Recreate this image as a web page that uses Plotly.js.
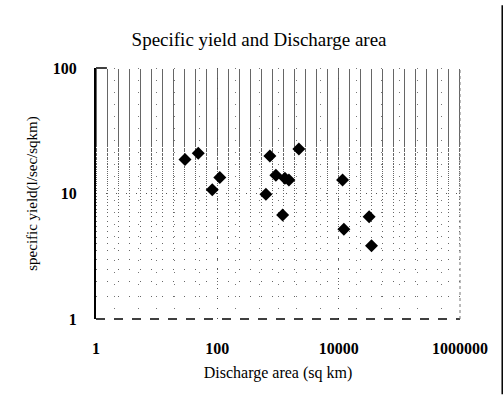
<!DOCTYPE html>
<html>
<head>
<meta charset="utf-8">
<script src="https://cdn.plot.ly/plotly-3.0.1.min.js"></script>
<style>html,body{margin:0;padding:0;background:#fff;}#chart{width:504px;height:409px;}</style>
</head>
<body>
<div id="chart"></div>
<script>
// Discharge area (sq km) and specific yield (l/sec/sqkm)
const dischargeArea = [29.3, 48.5, 110, 82.4, 735, 2210, 923, 1300, 1513, 632, 1191, 11590, 12190, 31800, 34800];
const specificYield = [18.7, 20.9, 13.4, 10.7, 19.9, 22.6, 14.0, 13.2, 12.8, 9.86, 6.74, 12.8, 5.19, 6.53, 3.84];
const xTickVals = [1, 100, 10000, 1000000];
const xTickText = ['1', '100', '10000', '1000000'];
const yTickVals = [1, 10, 100];
const yTickText = ['1', '10', '100'];

const serif = 'Liberation Serif, Times New Roman, serif';

const trace = {
  x: dischargeArea,
  y: specificYield,
  type: 'scatter',
  mode: 'markers',
  marker: {symbol: 'diamond', size: 10, color: '#000'},
  hoverinfo: 'x+y'
};

const layout = {
  width: 504, height: 409,
  margin: {l: 96, r: 44, t: 68, b: 90},
  paper_bgcolor: '#fff', plot_bgcolor: '#fff',
  showlegend: false,
  font: {family: serif, color: '#000'},
  title: {
    text: 'Specific yield and Discharge area',
    font: {family: serif, size: 19, color: '#000'},
    xref: 'container', x: 0.514, xanchor: 'center',
    yref: 'container', y: 0.905, yanchor: 'middle'
  },
  xaxis: {
    type: 'log', range: [0, 6],
    tickvals: xTickVals, ticktext: xTickText,
    tickfont: {family: serif, size: 16, color: '#000', weight: 'bold'},
    ticks: '', ticklabelstandoff: 18,
    showgrid: true, gridcolor: '#555', griddash: '1px,9px', gridwidth: 1,
    minor: {showgrid: true, gridcolor: '#777', griddash: '1px,11px', gridwidth: 1},
    zeroline: false, showline: false,
    title: {text: 'Discharge area (sq km)', font: {family: serif, size: 16, color: '#000'}, standoff: 10}
  },
  yaxis: {
    type: 'log', range: [0, 2],
    tickvals: yTickVals, ticktext: yTickText,
    tickfont: {family: serif, size: 16, color: '#000', weight: 'bold'},
    ticks: '', ticklabelstandoff: 14,
    showgrid: true, gridcolor: '#555', griddash: '1px,9px', gridwidth: 1,
    minor: {showgrid: true, gridcolor: '#666', griddash: '1px,10px', gridwidth: 1},
    zeroline: false, showline: true, linecolor: '#000', linewidth: 2,
    title: {text: 'specific yield(l/sec/sqkm)', font: {family: serif, size: 15, color: '#000'}, standoff: 12}
  },
  shapes: [
    {type: 'line', xref: 'paper', yref: 'paper', x0: 0, x1: 1, y0: 0, y1: 0,
     line: {color: '#000', width: 1.5, dash: 'dash'}},
    {type: 'line', xref: 'paper', yref: 'paper', x0: 0, x1: 0.03, y0: 1, y1: 1,
     line: {color: '#000', width: 1.5}},
    {type: 'line', xref: 'paper', yref: 'paper', x0: 1, x1: 1, y0: 0, y1: 1,
     line: {color: '#777', width: 1, dash: 'dot'}},
    {type: 'line', xref: 'paper', yref: 'paper', x0: 1.116, x1: 1.116, y0: -0.3, y1: 1.25,
     line: {color: '#000', width: 1.5}}
  ]
};

Plotly.newPlot('chart', [trace], layout, {displayModeBar: false, staticPlot: true});
</script>
</body>
</html>
